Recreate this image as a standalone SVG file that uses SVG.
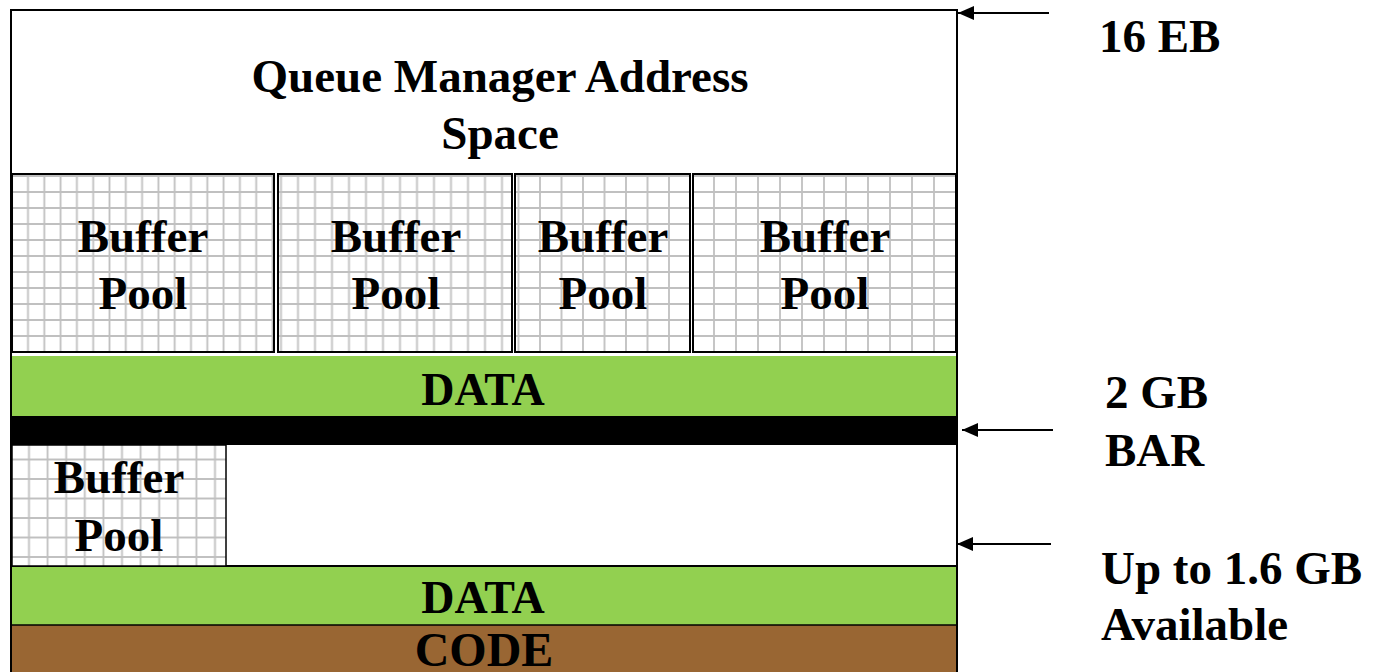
<svg xmlns="http://www.w3.org/2000/svg" width="1375" height="672" viewBox="0 0 1375 672">
<style>
text{font-family:"Liberation Serif","Times New Roman",serif;font-weight:bold;fill:#000}
.t47{font-size:47px}
.mid{text-anchor:middle}
.box{stroke:#000;stroke-width:2}
.grid{fill:none;stroke:#c0c0c0;stroke-width:1.8}
.arrow{stroke:#000;stroke-width:2;fill:none}
</style>
<defs>
<pattern id="g1" patternUnits="userSpaceOnUse" x="19.85" y="184" width="16.3" height="16"><rect width="16.3" height="16" fill="#fff"/><path class="grid" d="M8.15 0V16M0 8H16.3"/></pattern>
<pattern id="g2" patternUnits="userSpaceOnUse" x="493.5" y="184" width="17" height="16"><rect width="17" height="16" fill="#fff"/><path class="grid" d="M8.5 0V16M0 8H17"/></pattern>
<pattern id="g3" patternUnits="userSpaceOnUse" x="529.25" y="184" width="21.5" height="16"><rect width="21.5" height="16" fill="#fff"/><path class="grid" d="M10.75 0V16M0 8H21.5"/></pattern>
<pattern id="g4" patternUnits="userSpaceOnUse" x="703" y="184" width="22" height="16"><rect width="22" height="16" fill="#fff"/><path class="grid" d="M11 0V16M0 8H22"/></pattern>
<pattern id="g5" patternUnits="userSpaceOnUse" x="19.7" y="469.25" width="18.6" height="19.5"><rect width="18.6" height="19.5" fill="#fff"/><path class="grid" d="M9.3 0V19.5M0 9.75H18.6"/></pattern>
<marker id="ah" markerWidth="16" markerHeight="14" refX="16" refY="7" orient="auto" markerUnits="userSpaceOnUse"><path d="M0 0L16 7L0 14Z" fill="#000"/></marker>
</defs>
<rect width="1375" height="672" fill="#fff"/>
<g id="address-space">
<rect x="11" y="10" width="946" height="670" fill="#fff" class="box"/>
<text class="t47 mid" x="500" y="92">Queue Manager Address</text>
<text class="t47 mid" x="500" y="149">Space</text>
</g>
<g id="buffer-pool-1">
<rect x="12" y="174" width="262" height="178" fill="url(#g1)" class="box"/>
<text class="t47 mid" x="143" y="252">Buffer</text>
<text class="t47 mid" x="143" y="309">Pool</text>
</g>
<g id="buffer-pool-2">
<rect x="278" y="174" width="234" height="178" fill="url(#g2)" class="box"/>
<text class="t47 mid" x="396" y="252">Buffer</text>
<text class="t47 mid" x="396" y="309">Pool</text>
</g>
<g id="buffer-pool-3">
<rect x="515" y="174" width="175" height="178" fill="url(#g3)" class="box"/>
<text class="t47 mid" x="603" y="252">Buffer</text>
<text class="t47 mid" x="603" y="309">Pool</text>
</g>
<g id="buffer-pool-4">
<rect x="693" y="174" width="263" height="178" fill="url(#g4)" class="box"/>
<text class="t47 mid" x="825" y="252">Buffer</text>
<text class="t47 mid" x="825" y="309">Pool</text>
</g>
<g id="data-upper">
<rect x="12" y="356" width="944" height="60" fill="#92d050"/>
<text class="mid" x="483" y="405" font-size="46">DATA</text>
</g>
<g id="bar">
<rect x="12" y="416" width="944" height="29" fill="#000"/>
</g>
<g id="lower-region">
<rect x="12" y="445" width="944" height="121" fill="#fff"/>
<line x1="12" y1="566" x2="956" y2="566" stroke="#000" stroke-width="2"/>
</g>
<g id="buffer-pool-5">
<rect x="12" y="445" width="214" height="121" fill="url(#g5)" stroke="#000" stroke-width="1.5"/>
<text class="t47 mid" x="119" y="493">Buffer</text>
<text class="t47 mid" x="119" y="551">Pool</text>
</g>
<g id="data-lower">
<rect x="12" y="567" width="944" height="58" fill="#92d050"/>
<text class="mid" x="483" y="613" font-size="46">DATA</text>
</g>
<g id="code">
<rect x="12" y="625" width="944" height="47" fill="#996633"/>
<line x1="12" y1="625" x2="956" y2="625" stroke="#000" stroke-width="1.5"/>
<text class="mid" x="484" y="666" font-size="48">CODE</text>
</g>
<line x1="11" y1="10" x2="11" y2="672" stroke="#000" stroke-width="2"/>
<line x1="957" y1="10" x2="957" y2="672" stroke="#000" stroke-width="2"/>
<g id="label-16eb"><text class="t47" x="1099" y="52">16 EB</text></g>
<g id="label-2gb"><text class="t47" x="1105" y="408">2 GB</text><text class="t47" x="1105" y="466">BAR</text></g>
<g id="label-avail"><text class="t47" x="1101" y="584">Up to 1.6 GB</text><text class="t47" x="1101" y="640">Available</text></g>
<g id="connectors">
<line class="arrow" x1="1049" y1="13" x2="958" y2="13" marker-end="url(#ah)"/>
<line class="arrow" x1="1053" y1="430" x2="962" y2="430" marker-end="url(#ah)"/>
<line class="arrow" x1="1051" y1="544" x2="957" y2="544" marker-end="url(#ah)"/>
</g>
</svg>
